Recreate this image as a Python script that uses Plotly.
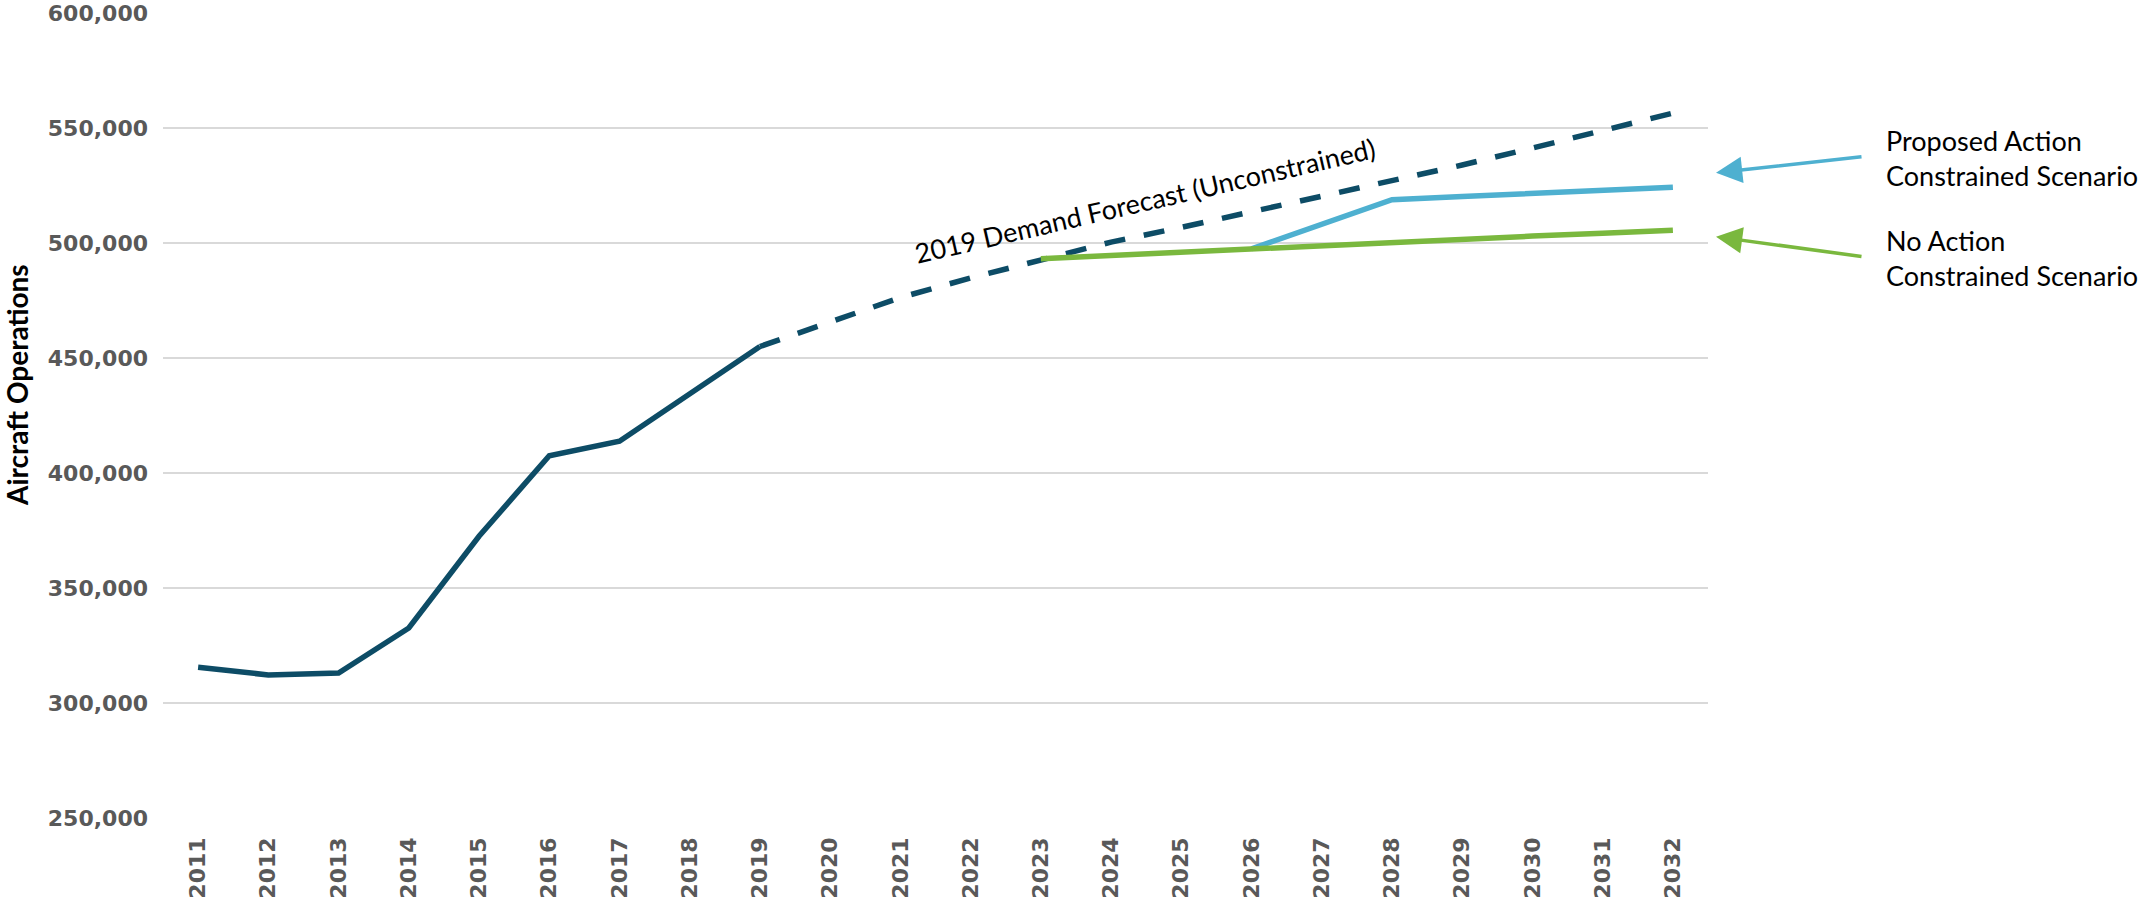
import plotly.graph_objects as go

# ---- data ----
years = ["2011", "2012", "2013", "2014", "2015", "2016", "2017", "2018", "2019", "2020", "2021",
         "2022", "2023", "2024", "2025", "2026", "2027", "2028", "2029", "2030", "2031", "2032"]

hist_years = ["2011", "2012", "2013", "2014", "2015", "2016", "2017", "2018", "2019"]
hist_ops = [315500, 312200, 313000, 332600, 372500, 407500, 413800, 434500, 455000]

fcst_years = ["2019", "2020", "2021", "2022", "2023", "2024", "2025", "2026",
              "2027", "2028", "2029", "2030", "2031", "2032"]
fcst_ops = [455000, 465900, 476300, 484800, 492900, 500400, 506800, 513500,
            520100, 527000, 533900, 541300, 549000, 556500]

noact_years = ["2023", "2024", "2025", "2026", "2027", "2028", "2029", "2030", "2031", "2032"]
noact_ops = [493200, 494600, 496000, 497500, 499000, 500600, 501800, 503000, 504200, 505500]

prop_years = ["2026", "2027", "2028", "2029", "2030", "2031", "2032"]
prop_ops = [497500, 508100, 518800, 520200, 521500, 522900, 524200]

y_ticks = [250000, 300000, 350000, 400000, 450000, 500000, 550000, 600000]

# ---- styles ----
DARK = "#0D4C66"
BLUE = "#4EB0D0"
GREEN = "#7AB83E"
GRID = "#D9D9D9"
TICK = "#595959"

fig = go.Figure()
fig.add_trace(go.Scatter(x=hist_years, y=hist_ops, mode="lines",
                         line=dict(color=DARK, width=5.5), hoverinfo="x+y"))
fig.add_trace(go.Scatter(x=fcst_years, y=fcst_ops, mode="lines",
                         line=dict(color=DARK, width=5.5, dash="21px,19px"), hoverinfo="x+y"))
fig.add_trace(go.Scatter(x=prop_years, y=prop_ops, mode="lines",
                         line=dict(color=BLUE, width=5.5), hoverinfo="x+y"))
fig.add_trace(go.Scatter(x=noact_years, y=noact_ops, mode="lines",
                         line=dict(color=GREEN, width=5.5), hoverinfo="x+y"))

W, H = 2139, 902
L, R, T, B = 163, 431, 13, 84

fig.update_layout(
    width=W, height=H,
    margin=dict(l=L, r=R, t=T, b=B, pad=0, autoexpand=False),
    plot_bgcolor="white", paper_bgcolor="white",
    showlegend=False,
    font=dict(family="DejaVu Sans", color=TICK),
    xaxis=dict(type="category", categoryorder="array", categoryarray=years,
               range=[-0.5, len(years) - 0.5], showgrid=False, zeroline=False,
               showline=False, ticks="", tickangle=-90, automargin=False,
               tickfont=dict(family="DejaVu Sans", size=22, color=TICK, weight="bold"),
               ticklabelstandoff=14, fixedrange=True),
    yaxis=dict(range=[250000, 600000], tickvals=y_ticks, tickformat=",d",
               showgrid=True, gridcolor=GRID, gridwidth=2, zeroline=False,
               showline=False, ticks="", automargin=False,
               tickfont=dict(family="DejaVu Sans", size=22, color=TICK, weight="bold"),
               ticklabelstandoff=14, fixedrange=True),
)

plot_w = W - L - R
plot_h = H - T - B


def px(xp):
    return (xp - L) / plot_w


def py(yp):
    return (H - B - yp) / plot_h


# y-axis title
fig.add_annotation(text="<b>Aircraft Operations</b>", xref="paper", yref="paper",
                   x=px(17), y=py(385), textangle=-90, showarrow=False,
                   font=dict(family="Lato", size=28, color="black"),
                   xanchor="center", yanchor="middle")

# forecast label
fig.add_annotation(text="2019 Demand Forecast (Unconstrained)", xref="paper", yref="paper",
                   x=px(1145), y=py(200), textangle=-13, showarrow=False,
                   font=dict(family="Lato", size=27, color="black"),
                   xanchor="center", yanchor="middle")

# scenario labels
fig.add_annotation(text="Proposed Action<br>Constrained Scenario", xref="paper", yref="paper",
                   x=px(1884), y=py(157.5), showarrow=False, align="left",
                   font=dict(family="Lato", size=27, color="black"),
                   xanchor="left", yanchor="middle")
fig.add_annotation(text="No Action<br>Constrained Scenario", xref="paper", yref="paper",
                   x=px(1884), y=py(257.5), showarrow=False, align="left",
                   font=dict(family="Lato", size=27, color="black"),
                   xanchor="left", yanchor="middle")

# arrows
fig.add_annotation(text="", xref="paper", yref="paper", x=px(1716), y=py(172.7),
                   ax=147, ay=-16, axref="pixel", ayref="pixel",
                   showarrow=True, arrowhead=2, arrowsize=1.5, arrowwidth=3.5,
                   arrowcolor=BLUE)
fig.add_annotation(text="", xref="paper", yref="paper", x=px(1716), y=py(236.7),
                   ax=147, ay=20, axref="pixel", ayref="pixel",
                   showarrow=True, arrowhead=2, arrowsize=1.5, arrowwidth=3.5,
                   arrowcolor=GREEN)

fig.write_html("out.html", config={"displayModeBar": False},
               post_script="document.body.style.margin='0';document.body.style.overflow='hidden';")
